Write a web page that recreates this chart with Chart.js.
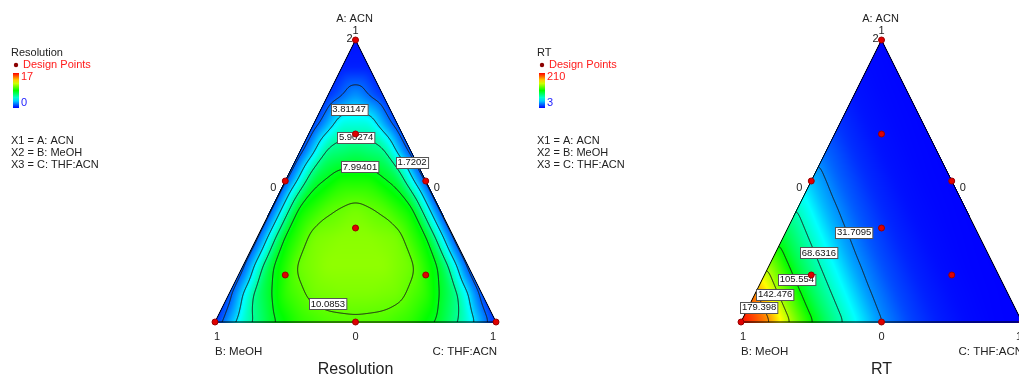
<!DOCTYPE html>
<html>
<head>
<meta charset="utf-8">
<script src="https://cdn.jsdelivr.net/npm/chart.js@4.4.0/dist/chart.umd.min.js"></script>
<style>
html, body { margin: 0; padding: 0; background: #fff; overflow: hidden; }
#wrap { position: relative; width: 1019px; height: 376px; overflow: hidden; }
#wrap canvas { position: absolute; top: 0; }
#c1 { left: 0; }
#c2 { left: 526px; }
</style>
</head>
<body>
<div id="wrap">
  <canvas id="c1" width="527" height="376"></canvas>
  <canvas id="c2" width="527" height="376"></canvas>
</div>
<script>
// design points as mixture fractions (A: ACN, B: MeOH, C: THF:ACN)
var designA = [1, 0, 0, 0.5, 0.5, 0, 1/3, 2/3, 1/6, 1/6];
var designB = [0, 1, 0, 0.5, 0, 0.5, 1/3, 1/6, 2/3, 1/6];
var designC = [0, 0, 1, 0, 0.5, 0.5, 1/3, 1/6, 1/6, 2/3];

// responses on a 0.1 lattice
// row = A from 0 to 1, column = C from 0 to 1-A
var resolutionGrid = [
  [0.6, 4.9, 7.7, 9.2, 9.8, 9.9, 9.8, 9.2, 7.7, 4.9, 0.6],
  [1.1, 6.6, 9.3, 10.4, 10.6, 10.6, 10.4, 9.3, 6.6, 1.1],
  [1.2, 7.8, 10.3, 10.9, 10.9, 10.9, 10.3, 7.8, 1.2],
  [1.2, 8.3, 10.5, 10.8, 10.8, 10.5, 8.3, 1.2],
  [1.2, 8.4, 9.9, 10.45, 9.9, 8.4, 1.2],
  [1.2, 7.5, 8.9, 8.9, 7.5, 1.2],
  [1.1, 6.4, 7.0, 6.4, 1.1],
  [1.0, 4.85, 4.85, 1.0],
  [0.8, 2.6, 0.8],
  [0.5, 0.5],
  [0.3]
];
var rtGrid = [
  [210, 182, 130, 88, 58, 32, 17, 9, 5, 3.5, 3],
  [184, 133.5, 90.3, 60.5, 34, 18.2, 9.6, 5.3, 3.7, 3.1],
  [137, 92.7, 63, 36, 19.3, 10.1, 5.5, 3.8, 3.2],
  [95, 65.5, 38, 20.5, 10.7, 5.8, 4.0, 3.3],
  [68, 40, 21.7, 11.3, 6, 4.2, 3.4],
  [42, 22.8, 11.9, 6.3, 4.3, 3.5],
  [24, 12.4, 6.5, 4.5, 3.6],
  [13, 6.8, 4.7, 3.7],
  [7, 4.8, 3.8],
  [5, 3.9],
  [4]
];

var resolutionLevels = [1.7202, 3.81147, 5.90274, 7.99401, 10.0853];
var rtLevels = [31.7095, 68.6316, 105.554, 142.476, 179.398];
var resolutionRange = [0, 17];
var rtRange = [3, 210];

var axisNames = ["A: ACN", "B: MeOH", "C: THF:ACN"];
var legendLines = ["X1 = A: ACN", "X2 = B: MeOH", "X3 = C: THF:ACN"];

// where the contour labels sit, as [A, C]
var resolutionLabelAt = [[0.567, 0.418], [0.755, 0.0995], [0.656, 0.174], [0.55, 0.241], [0.064, 0.37]];
var rtLabelAt = [[0.319, 0.243], [0.245, 0.155], [0.152, 0.123], [0.099, 0.072], [0.053, 0.038]];

var FONT = '"Liberation Sans", Arial, sans-serif';

var stops = [[0, [0, 0, 255]], [0.25, [0, 255, 255]], [0.5, [0, 255, 0]], [0.75, [255, 255, 0]], [1, [255, 0, 0]]];
function colorAt(t) {
  if (!(t > 0)) t = 0;
  if (t > 1) t = 1;
  for (var k = 1; k < stops.length; k++) {
    if (t <= stops[k][0]) {
      var f = (t - stops[k-1][0]) / (stops[k][0] - stops[k-1][0]);
      var c0 = stops[k-1][1], c1 = stops[k][1];
      return [c0[0] + (c1[0]-c0[0])*f, c0[1] + (c1[1]-c0[1])*f, c0[2] + (c1[2]-c0[2])*f];
    }
  }
  return stops[stops.length-1][1];
}

function latticeValue(grid, a, c) {
  if (a < 0) a = 0;
  if (a > 1) a = 1;
  if (c < 0) c = 0;
  if (c > 1 - a) c = 1 - a;
  var fa = a * 10, fc = c * 10;
  var i = Math.min(9, Math.floor(fa));
  var j = Math.floor(fc);
  if (j < 0) j = 0;
  if (i + j > 9) j = 9 - i;
  var u = fa - i, v = fc - j;
  if (u + v <= 1 || i + j > 8) {
    var s = u + v;
    if (s > 1) { u /= s; v /= s; }
    return grid[i][j] * (1 - u - v) + grid[i+1][j] * u + grid[i][j+1] * v;
  }
  return grid[i+1][j] * (1 - v) + grid[i][j+1] * (1 - u) + grid[i+1][j+1] * (u + v - 1);
}

function blur(F, W, H, r) {
  var T = new Float32Array(W * H);
  var x, y, k, s, n;
  for (y = 0; y < H; y++) for (x = 0; x < W; x++) {
    s = 0; n = 0;
    for (k = -r; k <= r; k++) { var xx = x + k; if (xx < 0 || xx >= W) continue; s += F[y*W+xx]; n++; }
    T[y*W+x] = s / n;
  }
  for (y = 0; y < H; y++) for (x = 0; x < W; x++) {
    s = 0; n = 0;
    for (k = -r; k <= r; k++) { var yy = y + k; if (yy < 0 || yy >= H) continue; s += T[yy*W+x]; n++; }
    F[y*W+x] = s / n;
  }
}

function makeTernary(panel) {
  function toPx(chart, a, c) {
    return [chart.scales.x.getPixelForValue(c + a / 2), chart.scales.y.getPixelForValue(a)];
  }
  function trianglePath(ctx, chart) {
    var A = toPx(chart, 1, 0), B = toPx(chart, 0, 0), C = toPx(chart, 0, 1);
    ctx.beginPath();
    ctx.moveTo(A[0], A[1]); ctx.lineTo(B[0], B[1]); ctx.lineTo(C[0], C[1]); ctx.closePath();
  }
  return {
    id: 'ternary',
    beforeDatasetsDraw: function(chart) {
      var ctx = chart.ctx, area = chart.chartArea;
      var xs = chart.scales.x, ys = chart.scales.y;
      var m = 8;
      var x0 = Math.floor(area.left) - m, y0 = Math.floor(area.top) - m;
      var W = Math.ceil(area.right) + m - x0, H = Math.ceil(area.bottom) + m - y0;
      var F = new Float32Array(W * H), inside = new Uint8Array(W * H);
      for (var py = 0; py < H; py++) {
        var a = ys.getValueForPixel(y0 + py + 0.5);
        for (var px = 0; px < W; px++) {
          var c = xs.getValueForPixel(x0 + px + 0.5) - a / 2;
          var b = 1 - a - c;
          inside[py*W+px] = (a >= -0.002 && b >= -0.002 && c >= -0.002) ? 1 : 0;
          F[py*W+px] = latticeValue(panel.grid, a, c);
        }
      }
      blur(F, W, H, 4);
      blur(F, W, H, 4);

      // colour field
      var off = document.createElement('canvas');
      off.width = W; off.height = H;
      var octx = off.getContext('2d');
      var img = octx.createImageData(W, H);
      var lo = panel.range[0], hi = panel.range[1];
      for (var q = 0; q < W * H; q++) {
        if (!inside[q]) continue;
        var col = colorAt((F[q] - lo) / (hi - lo));
        img.data[q*4] = col[0]; img.data[q*4+1] = col[1]; img.data[q*4+2] = col[2]; img.data[q*4+3] = 255;
      }
      octx.putImageData(img, 0, 0);
      ctx.drawImage(off, x0, y0);

      // contour lines
      ctx.save();
      trianglePath(ctx, chart);
      ctx.clip();
      ctx.beginPath();
      panel.levels.forEach(function(L) {
        for (var y = 0; y < H - 1; y++) {
          for (var x = 0; x < W - 1; x++) {
            var v0 = F[y*W+x], v1 = F[y*W+x+1], v2 = F[(y+1)*W+x+1], v3 = F[(y+1)*W+x];
            var pts = [];
            if ((v0 >= L) !== (v1 >= L)) pts.push([x + (L - v0) / (v1 - v0), y]);
            if ((v1 >= L) !== (v2 >= L)) pts.push([x + 1, y + (L - v1) / (v2 - v1)]);
            if ((v3 >= L) !== (v2 >= L)) pts.push([x + (L - v3) / (v2 - v3), y + 1]);
            if ((v0 >= L) !== (v3 >= L)) pts.push([x, y + (L - v0) / (v3 - v0)]);
            if (pts.length >= 2) {
              ctx.moveTo(x0 + pts[0][0] + 0.5, y0 + pts[0][1] + 0.5);
              ctx.lineTo(x0 + pts[1][0] + 0.5, y0 + pts[1][1] + 0.5);
            }
            if (pts.length === 4) {
              ctx.moveTo(x0 + pts[2][0] + 0.5, y0 + pts[2][1] + 0.5);
              ctx.lineTo(x0 + pts[3][0] + 0.5, y0 + pts[3][1] + 0.5);
            }
          }
        }
      });
      ctx.strokeStyle = '#1a1a1a';
      ctx.lineWidth = 1;
      ctx.stroke();
      ctx.restore();

      // triangle outline
      trianglePath(ctx, chart);
      ctx.strokeStyle = '#000';
      ctx.lineWidth = 1;
      ctx.stroke();

      // contour labels
      ctx.font = '9.5px ' + FONT;
      ctx.textAlign = 'center';
      ctx.textBaseline = 'middle';
      panel.levels.forEach(function(L, k) {
        var p = toPx(chart, panel.labelAt[k][0], panel.labelAt[k][1]);
        var txt = String(L);
        var w = ctx.measureText(txt).width + 3;
        var bx = Math.round(p[0] - w / 2) + 0.5, by = Math.round(p[1] - 5.5) + 0.5;
        ctx.fillStyle = '#fff';
        ctx.fillRect(bx, by, w, 11);
        ctx.strokeStyle = '#555';
        ctx.strokeRect(bx, by, w, 11);
        ctx.fillStyle = '#111';
        ctx.fillText(txt, p[0], p[1] + 0.5);
      });
    },
    afterDraw: function(chart) {
      var ctx = chart.ctx;
      var A = toPx(chart, 1, 0), B = toPx(chart, 0, 0), C = toPx(chart, 0, 1);
      var mAB = toPx(chart, 0.5, 0), mAC = toPx(chart, 0.5, 0.5), mBC = toPx(chart, 0, 0.5);
      ctx.save();
      ctx.fillStyle = '#222';
      ctx.textBaseline = 'middle';
      ctx.font = '11px ' + FONT;
      ctx.textAlign = 'center';
      ctx.fillText(axisNames[0], A[0] - 1, A[1] - 21);
      ctx.fillText('1', A[0], A[1] - 9);
      ctx.textAlign = 'right';
      ctx.fillText('2', A[0] - 3, A[1] - 1);
      ctx.textAlign = 'center';
      ctx.fillText('0', mAB[0] - 12, mAB[1] + 7);
      ctx.fillText('0', mAC[0] + 11, mAC[1] + 7);
      ctx.fillText('1', B[0] + 2, B[1] + 15);
      ctx.fillText('0', mBC[0], mBC[1] + 15);
      ctx.fillText('1', C[0] - 3, C[1] + 15);
      ctx.font = '11.5px ' + FONT;
      ctx.textAlign = 'left';
      ctx.fillText(axisNames[1], B[0], B[1] + 30);
      ctx.textAlign = 'right';
      ctx.fillText(axisNames[2], C[0] + 1, C[1] + 30);
      ctx.font = '16px ' + FONT;
      ctx.textAlign = 'center';
      ctx.fillText(panel.name, mBC[0], mBC[1] + 48);

      // legend block on the left of the panel
      ctx.font = '11px ' + FONT;
      ctx.textAlign = 'left';
      ctx.fillStyle = '#222';
      ctx.fillText(panel.name, 11, 53);
      ctx.fillStyle = '#8b0000';
      ctx.beginPath(); ctx.arc(16, 65, 2.2, 0, Math.PI * 2); ctx.fill();
      ctx.fillStyle = '#ff1a1a';
      ctx.fillText('Design Points', 23, 65);
      var g = ctx.createLinearGradient(0, 73, 0, 108);
      for (var k = 0; k <= 10; k++) {
        var cc = colorAt(1 - k / 10);
        g.addColorStop(k / 10, 'rgb(' + Math.round(cc[0]) + ',' + Math.round(cc[1]) + ',' + Math.round(cc[2]) + ')');
      }
      ctx.fillStyle = g;
      ctx.fillRect(13, 73, 6, 35);
      ctx.fillStyle = '#ff1a1a';
      ctx.fillText(String(panel.range[1]), 21, 77);
      ctx.fillStyle = '#1a1aff';
      ctx.fillText(String(panel.range[0]), 21, 103);
      ctx.fillStyle = '#222';
      legendLines.forEach(function(s, k) { ctx.fillText(s, 11, 141 + k * 12); });
      ctx.restore();
    }
  };
}

var panels = [
  { canvas: 'c1', name: 'Resolution', grid: resolutionGrid, levels: resolutionLevels, labelAt: resolutionLabelAt, range: resolutionRange },
  { canvas: 'c2', name: 'RT', grid: rtGrid, levels: rtLevels, labelAt: rtLabelAt, range: rtRange }
];

panels.forEach(function(panel) {
  var pts = designA.map(function(a, k) { return { x: designC[k] + a / 2, y: a }; });
  new Chart(document.getElementById(panel.canvas), {
    type: 'scatter',
    data: {
      datasets: [{
        data: pts,
        pointRadius: 3,
        pointBackgroundColor: '#e00000',
        pointBorderColor: '#990000',
        pointBorderWidth: 1,
        clip: false
      }]
    },
    options: {
      responsive: false,
      animation: false,
      events: [],
      layout: { padding: { left: 215, right: 31, top: 40, bottom: 54 } },
      scales: {
        x: { type: 'linear', min: 0, max: 1, display: false },
        y: { type: 'linear', min: 0, max: 1, display: false }
      },
      plugins: { legend: { display: false }, tooltip: { enabled: false } }
    },
    plugins: [makeTernary(panel)]
  });
});
</script>
</body>
</html>
